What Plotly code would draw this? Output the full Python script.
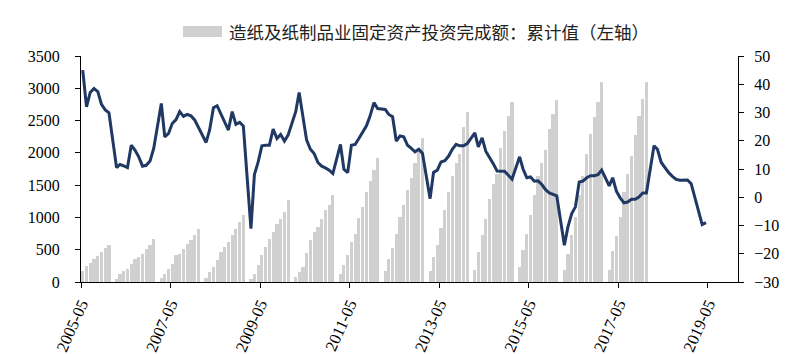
import plotly.graph_objects as go

# ---------------- data ----------------
# YoY growth (%) of paper industry FAI, right axis; January not published
growth_months = (
    ["2005-%02d" % m for m in range(5, 13)]
    + ["%d-%02d" % (y, m) for y in range(2006, 2019) for m in range(2, 13)]
    + ["2019-02", "2019-03", "2019-04"]
)
growth = [
    45.0, 32.0, 37.1, 38.5, 37.4, 32.9, 30.9, 29.9,                      # 2005
    10.5, 11.6, 11.1, 10.5, 18.4, 16.7, 14.3, 11.0, 11.3, 12.8, 17.3,     # 2006
    33.2, 21.4, 22.6, 26.1, 27.5, 30.3, 28.6, 29.3, 28.8, 27.3, 24.9,     # 2007
    19.4, 23.8, 31.7, 32.4, 29.7, 26.7, 23.8, 30.3, 25.8, 26.5, 25.2,     # 2008
    -11.1, 8.0, 12.5, 18.2, 18.4, 18.4, 24.1, 20.8, 22.2, 19.9, 22.0,     # 2009
    30.3, 37.1, 27.9, 20.2, 17.0, 15.5, 12.3, 11.0, 10.4, 9.6, 8.4,       # 2010
    18.7, 9.9, 8.7, 18.4, 18.7, 20.8, 22.9, 25.3, 28.8, 33.5, 31.4,       # 2011
    31.1, 29.3, 28.5, 19.9, 21.7, 21.4, 18.4, 17.3, 16.1, 17.0, 15.5,     # 2012
    -0.5, 8.8, 9.6, 12.5, 12.9, 14.5, 17.0, 18.7, 18.2, 18.2, 19.0,       # 2013
    22.8, 17.8, 21.0, 16.3, 14.3, 11.9, 9.3, 9.2, 9.2, 7.8, 6.4,          # 2014
    14.3, 10.0, 6.9, 7.2, 5.7, 5.8, 4.5, 2.7, 1.5, 0.9, 0.5,              # 2015
    -17.0, -10.5, -5.8, -3.4, 5.4, 5.7, 6.9, 7.6, 7.6, 8.0, 9.6,          # 2016
    4.0, 6.9, 2.1, -0.2, -2.0, -1.7, -0.7, -0.7, 0.1, 1.5, 1.5,           # 2017
    18.2, 17.0, 12.3, 10.4, 8.7, 7.4, 6.3, 6.0, 6.0, 6.1, 4.8,            # 2018
    -5.2, -9.7, -9.0,                                                     # 2019
]

# Cumulative investment (left axis), up to 2017-12
invest_months = (
    ["2005-%02d" % m for m in range(5, 13)]
    + ["%d-%02d" % (y, m) for y in range(2006, 2018) for m in range(2, 13)]
)
invest = [
    170, 250, 300, 355, 410, 465, 525, 570,                               # 2005
    52, 130, 165, 207, 285, 362, 388, 440, 507, 579, 662,                 # 2006
    62, 129, 207, 284, 414, 440, 517, 595, 646, 724, 827,                 # 2007
    62, 155, 233, 336, 465, 543, 620, 724, 827, 930, 1034,                # 2008
    52, 130, 258, 414, 543, 672, 776, 905, 982, 1086, 1267,               # 2009
    78, 155, 233, 455, 646, 776, 853, 982, 1112, 1189, 1355,              # 2010
    129, 269, 424, 620, 750, 993, 1163, 1396, 1561, 1732, 1923,           # 2011
    165, 352, 527, 750, 1008, 1200, 1422, 1603, 1836, 2040, 2224,         # 2012
    165, 388, 579, 838, 1112, 1396, 1640, 1850, 1990, 2400, 2640,         # 2013
    181, 465, 724, 982, 1282, 1525, 1680, 2078, 2337, 2570, 2792,         # 2014
    233, 491, 750, 1044, 1355, 1644, 1850, 2042, 2368, 2595, 2818,        # 2015
    182, 439, 724, 1008, 1355, 1644, 1975, 2285, 2559, 2792, 3092,        # 2016
    182, 484, 718, 1014, 1395, 1670, 1951, 2279, 2565, 2836, 3100,        # 2017
]

left_ticks = [0, 500, 1000, 1500, 2000, 2500, 3000, 3500]
right_ticks = [-30, -20, -10, 0, 10, 20, 30, 40, 50]
x_tick_labels = ["2005-05", "2007-05", "2009-05", "2011-05", "2013-05",
                 "2015-05", "2017-05", "2019-05"]
legend_label = "造纸及纸制品业固定资产投资完成额：累计值（左轴）"

# ---------------- figure ----------------
W, H = 804, 354
ML, MR, MT, MB = 81, 66, 56, 72
PW, PH = W - ML - MR, H - MT - MB

SERIF = "Liberation Serif, Times New Roman, serif"
BAR_COLOR = "#d0d0d0"
LINE_COLOR = "#1f3864"

fig = go.Figure()
fig.add_trace(go.Bar(
    x=[m + "-15" for m in invest_months],
    y=invest,
    yaxis="y",
    marker=dict(color=BAR_COLOR, line=dict(width=0)),
    width=26 * 86400000,
    name=legend_label,
    showlegend=False,
))
fig.add_trace(go.Scatter(
    x=[m + "-15" for m in growth_months],
    y=growth,
    yaxis="y2",
    mode="lines",
    line=dict(color=LINE_COLOR, width=3),
    showlegend=False,
))

def px_x(p):
    return (p - ML) / PW

def px_y(p):
    return (H - MB - p) / PH

# legend (manual, like the original)
fig.add_shape(type="rect", xref="paper", yref="paper",
              x0=px_x(183), x1=px_x(222), y0=px_y(37), y1=px_y(26),
              fillcolor=BAR_COLOR, line=dict(width=0))
fig.add_annotation(xref="paper", yref="paper", x=px_x(227), y=px_y(31.5),
                   xanchor="left", yanchor="middle", showarrow=False,
                   text=legend_label,
                   font=dict(family="Noto Sans CJK SC", size=17.5, color="#222222"))

fig.update_layout(
    width=W, height=H,
    margin=dict(l=ML, r=MR, t=MT, b=MB, pad=0, autoexpand=False),
    paper_bgcolor="white", plot_bgcolor="white",
    bargap=0,
    showlegend=False,
    font=dict(family=SERIF, size=16, color="#000000"),
    xaxis=dict(
        type="date",
        range=["2005-05-01", "2020-01-01"],
        tickvals=[t + "-01" for t in x_tick_labels],
        ticktext=x_tick_labels,
        tickangle=-66,
        ticks="outside", ticklen=5, tickcolor="black", tickwidth=1,
        showline=True, linecolor="black", linewidth=1,
        showgrid=False, zeroline=False, automargin=False,
        tickfont=dict(family=SERIF, size=16.5),
    ),
    yaxis=dict(
        range=[0, 3500],
        tickvals=left_ticks,
        ticks="outside", ticklen=5, tickcolor="black", tickwidth=1,
        showline=True, linecolor="black", linewidth=1,
        showgrid=False, zeroline=False, automargin=False,
        ticklabelstandoff=12,
        tickfont=dict(family=SERIF, size=16),
    ),
    yaxis2=dict(
        range=[-30, 50],
        tickvals=right_ticks,
        overlaying="y", side="right",
        ticks="outside", ticklen=5, tickcolor="black", tickwidth=1,
        showline=True, linecolor="black", linewidth=1,
        showgrid=False, zeroline=False, automargin=False,
        ticklabelstandoff=7,
        tickfont=dict(family=SERIF, size=16),
    ),
)

fig.write_html("out.html")
